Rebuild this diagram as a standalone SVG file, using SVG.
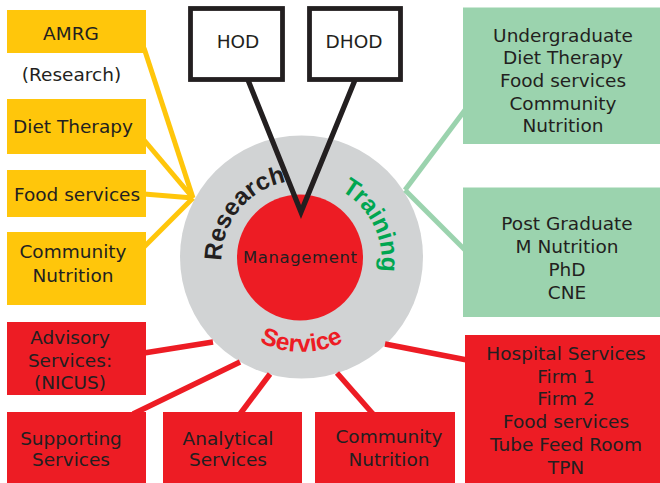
<svg xmlns="http://www.w3.org/2000/svg" xmlns:xlink="http://www.w3.org/1999/xlink" width="660" height="483" viewBox="0 0 660 483">
<style>
.t{font-family:"DejaVu Sans",sans-serif;font-size:18.5px;fill:#231F20;text-anchor:middle}
.arc{font-family:"Liberation Sans",Arial,sans-serif;font-size:24.5px;font-weight:bold}
.yb{fill:#FFC60B}
.gb{fill:#9BD3AE}
.rb{fill:#ED1C24}
.yl{stroke:#FFC60B;stroke-width:5;fill:none}
.gl{stroke:#9BD3AE;stroke-width:5;fill:none}
.rl{stroke:#ED1C24;stroke-width:5.5;fill:none}
.kl{stroke:#231F20;stroke-width:5.2;fill:none;stroke-linejoin:miter;stroke-miterlimit:20}
.hb{fill:#fff;stroke:#231F20;stroke-width:4.8}
</style>
<defs>
<path id="topArc" d="M 222.2 270.9 A 80 80 0 1 1 380.8 270.9"/>
<path id="botArc" d="M 219.6 304 A 94 94 0 0 0 383.4 304"/>
</defs>
<rect width="660" height="483" fill="#fff"/>
<g id="core">
<circle cx="301.5" cy="257" r="121.5" fill="#D1D3D4"/>
<circle cx="300" cy="257.5" r="63" fill="#ED1C24"/>
<text class="t" x="300" y="263" textLength="114" style="font-size:16.5px">Management</text>
<text class="arc" fill="#231F20"><textPath xlink:href="#topArc" startOffset="10">Research</textPath></text>
<text class="arc" fill="#00A651"><textPath xlink:href="#topArc" startOffset="177">Training</textPath></text>
<text class="arc" fill="#ED1C24" text-anchor="middle"><textPath xlink:href="#botArc" startOffset="50%">Service</textPath></text>
</g>
<g id="connectors">
<line class="yl" x1="144" y1="48" x2="193" y2="198"/>
<line class="yl" x1="144" y1="140" x2="193" y2="198"/>
<line class="yl" x1="144" y1="194" x2="193" y2="198"/>
<line class="yl" x1="144" y1="247" x2="193" y2="198"/>
<line class="gl" x1="465" y1="110" x2="405" y2="190"/>
<line class="gl" x1="465" y1="250" x2="405" y2="190"/>
<line class="rl" x1="144" y1="353" x2="213" y2="342"/>
<line class="rl" x1="133" y1="414" x2="240" y2="362"/>
<line class="rl" x1="240" y1="414" x2="270" y2="374"/>
<line class="rl" x1="373" y1="414" x2="337" y2="373"/>
<line class="rl" x1="467" y1="360" x2="385" y2="344"/>
<polyline class="kl" points="248,80 301,212 355,80"/>
</g>
<g id="hod">
<rect class="hb" x="190.5" y="8.5" width="92" height="71"/>
<text class="t" x="238" y="48">HOD</text>
</g>
<g id="dhod">
<rect class="hb" x="309.5" y="8.5" width="91" height="71"/>
<text class="t" x="354" y="48">DHOD</text>
</g>
<g id="amrg">
<rect class="yb" x="7" y="10" width="139" height="43"/>
<text class="t" x="71" y="39.5">AMRG</text>
</g>
<g id="research-label">
<text class="t" x="71.5" y="81">(Research)</text>
</g>
<g id="diet-therapy">
<rect class="yb" x="7" y="99" width="139" height="55"/>
<text class="t" x="73" y="133">Diet Therapy</text>
</g>
<g id="food-services">
<rect class="yb" x="7" y="170" width="139" height="47"/>
<text class="t" x="77" y="201">Food services</text>
</g>
<g id="community-nutrition-y">
<rect class="yb" x="7" y="232" width="139" height="73"/>
<text class="t" x="73" y="258">Community</text>
<text class="t" x="73" y="282">Nutrition</text>
</g>
<g id="undergraduate">
<rect class="gb" x="463" y="7.5" width="197" height="136.5"/>
<text class="t" x="563" y="41.5">Undergraduate</text>
<text class="t" x="563" y="64.3">Diet Therapy</text>
<text class="t" x="563" y="87">Food services</text>
<text class="t" x="563" y="109.7">Community</text>
<text class="t" x="563" y="132.4">Nutrition</text>
</g>
<g id="postgraduate">
<rect class="gb" x="463" y="187.5" width="197" height="129.5"/>
<text class="t" x="567" y="230">Post Graduate</text>
<text class="t" x="567" y="253">M Nutrition</text>
<text class="t" x="567" y="276">PhD</text>
<text class="t" x="567" y="299">CNE</text>
</g>
<g id="advisory">
<rect class="rb" x="7" y="322" width="139" height="73"/>
<text class="t" x="70" y="344">Advisory</text>
<text class="t" x="70" y="366.5">Services:</text>
<text class="t" x="70" y="389">(NICUS)</text>
</g>
<g id="supporting">
<rect class="rb" x="7" y="412" width="139" height="75"/>
<text class="t" x="71" y="445">Supporting</text>
<text class="t" x="71" y="466">Services</text>
</g>
<g id="analytical">
<rect class="rb" x="163" y="412" width="139" height="75"/>
<text class="t" x="228" y="445">Analytical</text>
<text class="t" x="228" y="466">Services</text>
</g>
<g id="community-nutrition-r">
<rect class="rb" x="315" y="412" width="140" height="75"/>
<text class="t" x="389" y="443">Community</text>
<text class="t" x="389" y="466">Nutrition</text>
</g>
<g id="hospital">
<rect class="rb" x="465" y="335" width="195" height="152"/>
<text class="t" x="566" y="360">Hospital Services</text>
<text class="t" x="566" y="382.7">Firm 1</text>
<text class="t" x="566" y="405.4">Firm 2</text>
<text class="t" x="566" y="428">Food services</text>
<text class="t" x="566" y="450.8">Tube Feed Room</text>
<text class="t" x="566" y="473.5">TPN</text>
</g>
</svg>
